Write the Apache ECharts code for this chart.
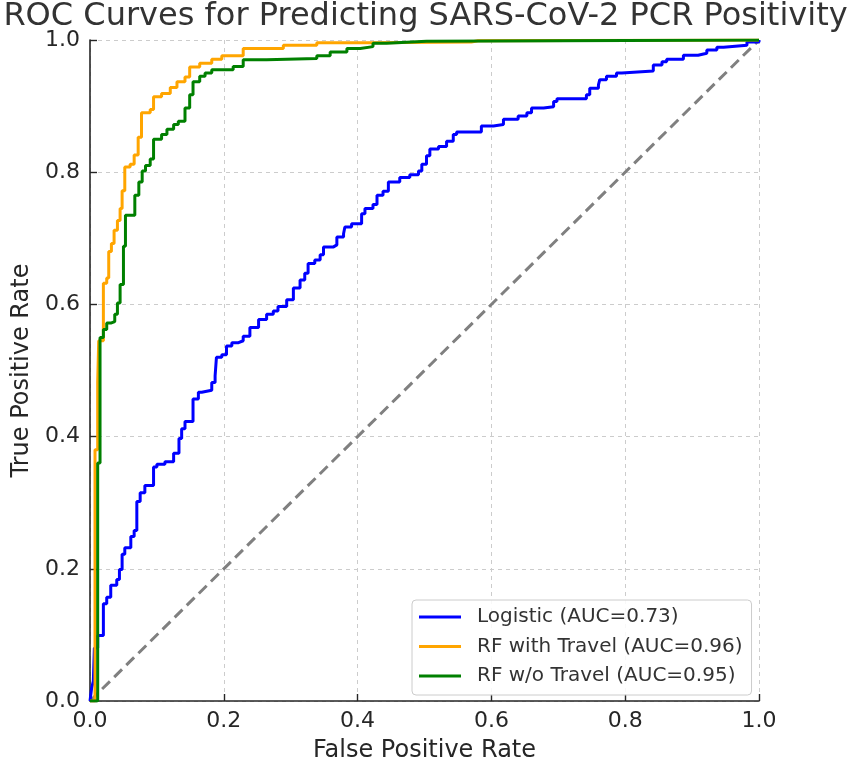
<!DOCTYPE html>
<html>
<head>
<meta charset="utf-8">
<script src="https://cdn.jsdelivr.net/npm/echarts@6/dist/echarts.min.js"></script>
<style>html,body{margin:0;padding:0;background:#fff;}#c{width:851px;height:768px;}</style>
</head>
<body>
<div id="c"></div>
<script>
const titleText = 'ROC Curves for Predicting SARS-CoV-2 PCR Positivity';
const seriesNames = ['Logistic (AUC=0.73)', 'RF with Travel (AUC=0.96)', 'RF w/o Travel (AUC=0.95)'];
const tickValues = [0, 0.2, 0.4, 0.6, 0.8, 1.0];

const logisticROC = [[0,0],[0.0025,0.02],[0.005,0.03],[0.0065,0.08],[0.0115,0.099],[0.020,0.147],[0.025,0.157],[0.031,0.175],[0.040,0.184],[0.044,0.199],[0.048,0.222],[0.052,0.232],[0.061,0.249],[0.066,0.258],[0.070,0.302],[0.075,0.315],[0.082,0.326],[0.095,0.354],[0.100,0.358],[0.112,0.362],[0.125,0.375],[0.133,0.397],[0.137,0.412],[0.142,0.423],[0.154,0.457],[0.162,0.467],[0.167,0.470],[0.182,0.482],[0.187,0.492],[0.189,0.520],[0.197,0.524],[0.204,0.537],[0.212,0.542],[0.222,0.545],[0.229,0.552],[0.239,0.565],[0.252,0.577],[0.264,0.585],[0.274,0.590],[0.281,0.597],[0.294,0.607],[0.304,0.625],[0.314,0.637],[0.321,0.647],[0.326,0.662],[0.336,0.667],[0.344,0.675],[0.349,0.687],[0.364,0.690],[0.369,0.702],[0.379,0.707],[0.381,0.717],[0.391,0.722],[0.406,0.737],[0.411,0.745],[0.423,0.751],[0.429,0.765],[0.438,0.771],[0.446,0.785],[0.463,0.792],[0.478,0.796],[0.491,0.802],[0.496,0.812],[0.503,0.825],[0.508,0.835],[0.521,0.839],[0.533,0.847],[0.543,0.857],[0.548,0.861],[0.585,0.870],[0.603,0.872],[0.618,0.880],[0.640,0.885],[0.653,0.890],[0.660,0.897],[0.678,0.899],[0.693,0.907],[0.698,0.911],[0.742,0.917],[0.747,0.927],[0.760,0.932],[0.762,0.940],[0.772,0.945],[0.787,0.950],[0.795,0.953],[0.842,0.962],[0.855,0.967],[0.862,0.971],[0.887,0.977],[0.909,0.980],[0.922,0.985],[0.937,0.989],[0.947,0.992],[0.982,0.997],[1.0,1.0]];

const rfTravelROC = [[0,0],[0.0075,0.38],[0.0115,0.482],[0.013,0.545],[0.020,0.632],[0.025,0.640],[0.028,0.680],[0.032,0.692],[0.036,0.712],[0.041,0.727],[0.045,0.745],[0.048,0.772],[0.052,0.808],[0.060,0.812],[0.066,0.826],[0.072,0.853],[0.077,0.890],[0.090,0.895],[0.095,0.914],[0.107,0.919],[0.120,0.928],[0.130,0.937],[0.142,0.944],[0.149,0.959],[0.164,0.965],[0.182,0.971],[0.197,0.976],[0.229,0.987],[0.289,0.992],[0.339,0.996],[0.423,0.997],[0.570,0.999],[0.580,1.0],[1.0,1.0]];

const rfNoTravelROC = [[0,0],[0.0115,0.36],[0.015,0.55],[0.020,0.562],[0.025,0.572],[0.032,0.574],[0.037,0.585],[0.041,0.602],[0.045,0.630],[0.050,0.688],[0.053,0.735],[0.067,0.765],[0.073,0.785],[0.078,0.802],[0.083,0.810],[0.090,0.820],[0.095,0.850],[0.107,0.857],[0.115,0.865],[0.125,0.872],[0.132,0.877],[0.142,0.897],[0.149,0.917],[0.154,0.937],[0.164,0.945],[0.172,0.950],[0.182,0.955],[0.214,0.960],[0.229,0.970],[0.264,0.972],[0.339,0.976],[0.359,0.982],[0.384,0.987],[0.404,0.990],[0.423,0.995],[0.443,0.998],[0.503,1.0],[1.0,1.0]];

const chanceLine = [[0,0],[1,1]];
const colors = ['#0000ff', '#ffa500', '#008000'];

const chart = echarts.init(document.getElementById('c'), null, {renderer: 'canvas'});
const font = 'DejaVu Sans';

function axisCommon(name) {
  return {
    type: 'value', min: 0, max: 1, interval: 0.2,
    name: name, nameLocation: 'middle',
    nameTextStyle: {fontFamily: font, fontSize: 24, color: '#262626'},
    axisLine: {show: true, lineStyle: {color: '#262626', width: 1.6}},
    axisTick: {show: true, inside: true, length: 7, lineStyle: {color: '#262626', width: 1.4}},
    axisLabel: {fontFamily: font, fontSize: 22, color: '#262626', formatter: v => v.toFixed(1)},
    splitLine: {show: true, lineStyle: {color: '#cccccc', type: [4, 4], width: 1}}
  };
}

const xAxis = axisCommon('False Positive Rate');
xAxis.nameGap = 38;
xAxis.axisLabel.margin = 9;
const yAxis = axisCommon('True Positive Rate');
yAxis.nameGap = 54;
yAxis.axisLabel.margin = 10;

function rocSeries(name, data, color) {
  return {
    name: name, type: 'line', data: data, step: 'end',
    showSymbol: false, symbol: 'none', animation: false,
    lineStyle: {color: color, width: 3}, itemStyle: {color: color},
    z: 3
  };
}

chart.setOption({
  backgroundColor: '#ffffff',
  animation: false,
  title: {
    text: titleText, left: 'center', top: 0, padding: [1, 0, 0, 0],
    textStyle: {fontFamily: font, fontSize: 32, fontWeight: 'normal', color: '#333333'}
  },
  grid: {left: 90, top: 40, width: 669, height: 666, containLabel: false},
  xAxis: xAxis,
  yAxis: yAxis,
  legend: {
    orient: 'vertical', left: 412, top: 600,
    data: seriesNames,
    icon: 'path://M0,0 L42,0 L42,3 L0,3 Z',
    itemWidth: 42, itemHeight: 3, itemGap: 7.5,
    padding: [6, 9, 8, 7],
    borderColor: '#cccccc', borderWidth: 1, borderRadius: 4,
    backgroundColor: 'rgba(255,255,255,0.85)',
    textStyle: {fontFamily: font, fontSize: 20, color: '#333333', lineHeight: 22, padding: [0, 0, 0, 11]}
  },
  series: [
    {
      name: 'chance', type: 'line', data: chanceLine, showSymbol: false, symbol: 'none',
      lineStyle: {color: '#808080', width: 3, type: [11, 6]}, z: 2, silent: true
    },
    rocSeries(seriesNames[0], logisticROC, colors[0]),
    rocSeries(seriesNames[1], rfTravelROC, colors[1]),
    rocSeries(seriesNames[2], rfNoTravelROC, colors[2])
  ]
});
</script>
</body>
</html>
